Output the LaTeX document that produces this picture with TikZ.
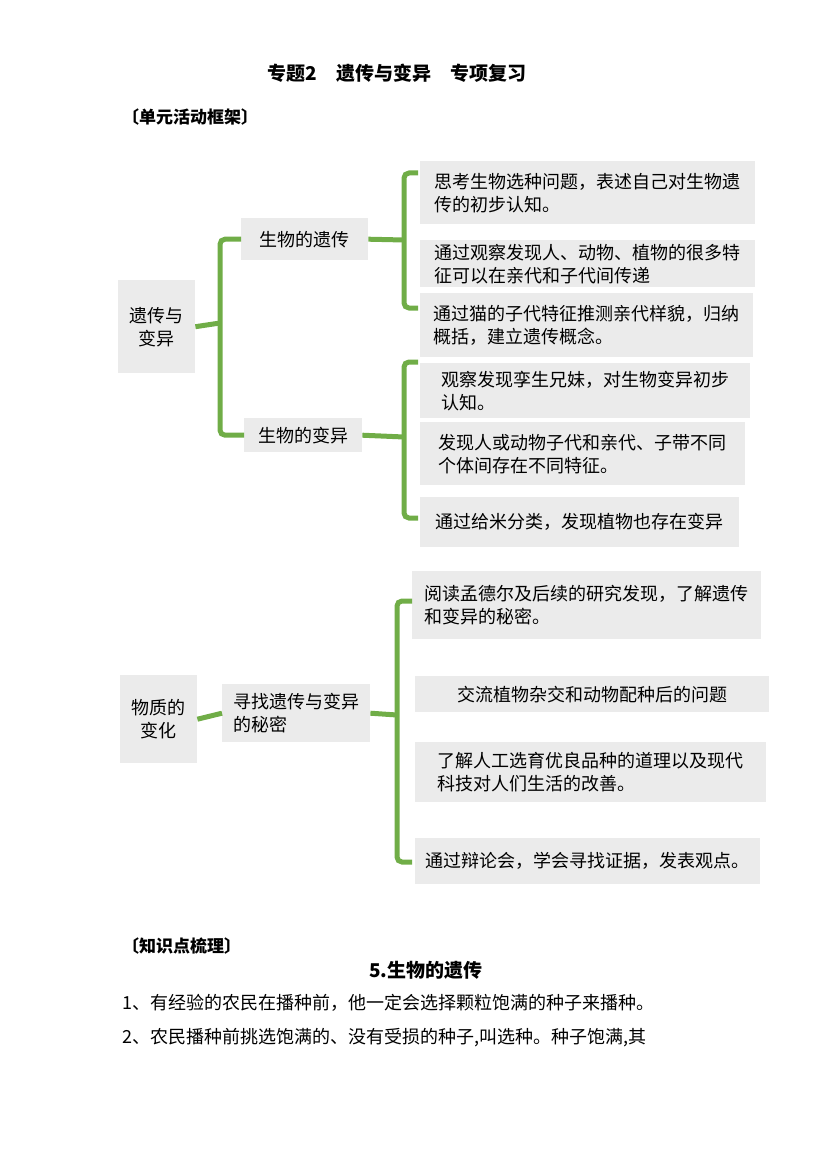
\documentclass[tikz,border=0pt]{standalone}
\usepackage{fontspec}
\setmainfont{Noto Sans CJK SC}
\definecolor{boxgray}{HTML}{EBEBEB}
\definecolor{brgreen}{HTML}{70AD47}
\tikzset{
  box/.style={fill=boxgray, inner sep=2pt, anchor=north west, align=left,
    font=\fontsize{18}{23}\selectfont},
  br/.style={draw=brgreen, line width=5pt, rounded corners=5pt},
  plain/.style={inner sep=0, anchor=west, font=\fontsize{18}{23}\selectfont},
}
\begin{document}
\begin{tikzpicture}[x=1pt,y=-1pt]
      \useasboundingbox (0,0) rectangle (827,1169);
      \node[font=\bfseries\fontsize{19}{23}\selectfont] (title) at (397,73) {专题2\quad 遗传与变异\quad 专项复习};
      \node[plain, font=\bfseries\fontsize{17}{21}\selectfont] (frame) at (122,117) {〔单元活动框架〕};

      % left column
      \node[box, minimum width=77pt, minimum height=93pt, align=center] (yc) at (118,280) {遗传与\\变异};
      \node[box, minimum width=77pt, minimum height=88pt, align=center] (wz) at (120,675) {物质的\\变化};

      % middle column
      \node[box, minimum width=127pt, minimum height=42pt, align=center] (sw) at (241,218) {生物的遗传};
      \node[box, minimum width=118pt, minimum height=34pt, align=center] (by) at (244,418) {生物的变异};
      \node[box, minimum width=148pt, minimum height=58pt] (xz) at (222,684) {寻找遗传与变异\\的秘密};

      % right column
      \node[box, minimum width=335pt, minimum height=63pt] (r1) at (420,161) {思考生物选种问题，表述自己对生物遗\\传的初步认知。};
      \node[box, minimum width=335pt, minimum height=47pt] (r2) at (420,240) {通过观察发现人、动物、植物的很多特\\征可以在亲代和子代间传递};
      \node[box, minimum width=333pt, minimum height=64pt] (r3) at (420,293) {通过猫的子代特征推测亲代样貌，归纳\\概括，建立遗传概念。};
      \node[box, minimum width=330pt, minimum height=55pt] (r4) at (420,363) {观察发现孪生兄妹，对生物变异初步\\认知。};
      \node[box, minimum width=325pt, minimum height=63pt] (r5) at (420,422) {发现人或动物子代和亲代、子带不同\\个体间存在不同特征。};
      \node[box, minimum width=319pt, minimum height=50pt] (r6) at (420,497) {通过给米分类，发现植物也存在变异};
      \node[box, minimum width=349pt, minimum height=68pt] (r7) at (412,571) {阅读孟德尔及后续的研究发现，了解遗传\\和变异的秘密。};
      \node[box, minimum width=354pt, minimum height=36pt] (r8) at (415,676) {交流植物杂交和动物配种后的问题};
      \node[box, minimum width=351pt, minimum height=60pt] (r9) at (415,742) {了解人工选育优良品种的道理以及现代\\科技对人们生活的改善。};
      \node[box, minimum width=345pt, minimum height=46pt] (r10) at (415,838) {通过辩论会，学会寻找证据，发表观点。};

      % brackets
      \coordinate (s1) at (220,323);
      \draw[br] (yc.east) -- (s1);
      \draw[br] (sw.west) -| (s1) |- (by.west);
      \coordinate (s2) at (404,240);
      \coordinate (t2) at (418,173);
      \coordinate (u2) at (418,308);
      \draw[br] (sw.east) -- (s2);
      \draw[br] (t2) -| (s2) |- (u2);
      \coordinate (s3) at (404,437);
      \coordinate (t3) at (418,362);
      \coordinate (u3) at (418,518);
      \draw[br] (by.east) -- (s3);
      \draw[br] (t3) -| (s3) |- (u3);
      \coordinate (s4) at (397,715);
      \coordinate (t4) at (412,601);
      \coordinate (u4) at (412,862);
      \draw[br] (xz.east) -- (s4);
      \draw[br] (t4) -| (s4) |- (u4);
      \draw[br] (wz.east) -- (xz.west);

      % knowledge part
      \node[plain, font=\bfseries\fontsize{17}{21}\selectfont] (know) at (122,946) {〔知识点梳理〕};
      \node[font=\bfseries\fontsize{19}{23}\selectfont] (sec) at (426,970) {5.生物的遗传};
      \node[plain] (l1) at (122,1003) {1、有经验的农民在播种前，他一定会选择颗粒饱满的种子来播种。};
      \node[plain] (l2) at (122,1038) {2、农民播种前挑选饱满的、没有受损的种子,叫选种。种子饱满,其};
  \end{tikzpicture}
\end{document}
